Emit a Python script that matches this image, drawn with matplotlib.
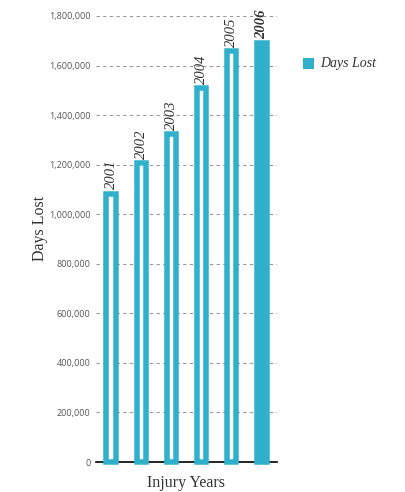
import matplotlib
matplotlib.use("Agg")
import matplotlib.pyplot as plt
from matplotlib.patches import Rectangle

years = ["2001", "2002", "2003", "2004", "2005", "2006"]
days_lost = [1083000, 1207000, 1325000, 1510000, 1660000, 1692000]
yticks = [0, 200000, 400000, 600000, 800000, 1000000, 1200000, 1400000, 1600000, 1800000]

color = "#30b0ca"
dpi = 100
fig = plt.figure(figsize=(4.06, 4.92), dpi=dpi)
ax = fig.add_axes([96/406, 1-462/492, 181/406, 446/492])

x = list(range(len(years)))
lw_px = 5.5
lw_pt = lw_px * 72 / dpi
for i, (xi, v) in enumerate(zip(x, days_lost)):
    last = i == len(years) - 1
    ax.bar(xi, v, width=0.31, facecolor=color if last else "white",
           edgecolor=color, linewidth=lw_pt, clip_on=False, zorder=3)
    ax.annotate(years[i], (xi, v), xytext=(0, 3), textcoords="offset points",
                rotation=90, ha="center", va="bottom",
                fontfamily="Liberation Serif", fontstyle="italic",
                fontweight="bold" if last else "normal",
                fontsize=10.5, color="#333333", zorder=4)

ax.set_xlim(-0.5, len(years) - 0.5)
ax.set_ylim(0, 1800000)
ax.set_yticks(yticks)
ax.set_yticklabels([f"{t:,}" for t in yticks], fontfamily="Open Sans", fontsize=6.5, color="#555555")
ax.set_xticks([])
ax.tick_params(axis="y", length=0, pad=4)
ax.yaxis.grid(True, linestyle=(0, (3, 3)), color="#999999", linewidth=0.8)
ax.set_axisbelow(True)
for s in ["top", "right", "left"]:
    ax.spines[s].set_visible(False)
ax.spines["bottom"].set_color("black")
ax.spines["bottom"].set_linewidth(1.2)
ax.spines["bottom"].set_zorder(2)

ax.set_ylabel("Days Lost", fontfamily="Liberation Serif", fontsize=11.5, color="#333333")
ax.yaxis.set_label_coords((40 - 96) / 181, (462 - 228) / 446)
ax.set_xlabel("Injury Years", fontfamily="Liberation Serif", fontsize=11.5, color="#333333")
ax.xaxis.set_label_coords((186 - 96) / 181, (462 - 483) / 446)
ax.yaxis.label.set_va("center")
ax.xaxis.label.set_va("center")

fig.patches.append(Rectangle((303/406, 1-69/492), 11/406, 11/492, transform=fig.transFigure,
                             facecolor=color, edgecolor="none"))
fig.text(320/406, 1-63.5/492, "Days Lost", fontfamily="Liberation Serif", fontstyle="italic",
         fontsize=10, color="#333333", va="center", ha="left")

fig.savefig("out.png", dpi=dpi)
